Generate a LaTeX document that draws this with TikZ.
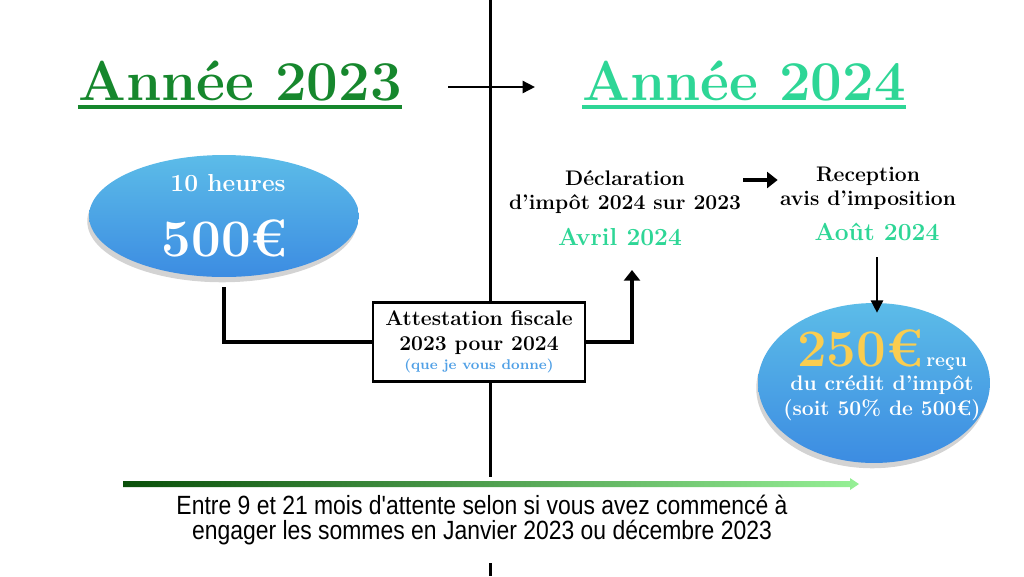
\documentclass[tikz,border=0pt]{standalone}
\usepackage{fontspec}
\newfontfamily\narrowfont[FakeStretch=0.87]{Liberation Sans}
\usetikzlibrary{calc,arrows.meta,shadows,shapes.geometric}

\definecolor{darkgreen}{RGB}{22,135,45}
\definecolor{mint}{RGB}{46,214,150}
\definecolor{bubbletop}{RGB}{92,188,232}
\definecolor{bubblebottom}{RGB}{60,140,226}
\definecolor{gold}{RGB}{250,205,80}
\definecolor{skyblue}{RGB}{80,160,230}
\definecolor{arrowdark}{RGB}{10,80,10}
\definecolor{arrowlight}{RGB}{150,240,150}

\tikzset{
	year/.style={inner sep=0pt, anchor=base, font=\fontsize{32}{36}\selectfont\bfseries},
	yearline/.style={line width=2.8pt},
	label/.style={inner sep=0pt, align=center, font=\fontsize{12}{13.6}\selectfont\bfseries},
	month/.style={inner sep=0pt, text=mint, font=\fontsize{14}{16}\selectfont\bfseries},
	bubble/.style={ellipse, inner sep=0pt, top color=bubbletop, bottom color=bubblebottom,
		drop shadow={shadow xshift=-1pt, shadow yshift=-3pt, opacity=0.35}},
	bubbletext/.style={inner sep=0pt, text=white, font=\bfseries},
	elbow/.style={line width=2.8pt},
	thinarrow/.style={line width=0.9pt, -{Triangle[length=7pt, width=7pt]}},
	fatarrow/.style={line width=2.8pt, -{Triangle[length=6pt, width=9pt]}},
}

\begin{document}
\begin{tikzpicture}[x=0.02cm, y=-0.02cm]
	\useasboundingbox (0,0) rectangle (1024,576);
	
	% time line in the middle
	\draw[line width=1.7pt] (490,0) -- (490,576);
	
	% years
	\node[year, text=darkgreen] (t23) at (240,100) {Année 2023};
	\node[year, text=mint] (t24) at (744,100) {Année 2024};
	\draw[yearline, darkgreen] ($(t23.base west)+(0,7)$) -- ($(t23.base east)+(0,7)$);
	\draw[yearline, mint] ($(t24.base west)+(0,7)$) -- ($(t24.base east)+(0,7)$);
	\draw[thinarrow] ($(t23.base east)+(46,-13)$) -- ($(t24.base west)+(-47,-13)$);
	
	% 2023
	\node[bubble, minimum width=5.4cm, minimum height=2.44cm] (e500) at (224,216) {};
	\node[bubbletext, font=\fontsize{14}{16}\selectfont\bfseries] (h10) at (228,183) {10 heures};
	\node[bubbletext, font=\fontsize{30}{32}\selectfont\bfseries] (p500) at (225,238) {500€};
	
	\node[draw, line width=1.4pt, fill=white, align=center, minimum width=4.24cm, minimum height=1.58cm,
		inner sep=2pt, font=\fontsize{12}{14}\selectfont\bfseries] (box) at (479,342)
		{Attestation fiscale\\2023 pour 2024\\[-3pt]{\color{skyblue}\fontsize{8}{9}\selectfont(que je vous donne)}};
	
	% 2024
	\node[label] (decl) at (625,192) {Déclaration\\d'impôt 2024 sur 2023};
	\node[month] (avril) at (620,237) {Avril 2024};
	\coordinate (avrilIn) at (632,270);
	
	\node[label] (rec) at (868,188) {Reception\\avis d'imposition};
	\node[month] (aout) at (877,232) {Août 2024};
	
	\node[bubble, minimum width=4.64cm, minimum height=3.2cm] (e250) at (874,383) {};
	\node[bubbletext, anchor=base] (p250) at (882,366)
		{{\color{gold}\fontsize{30}{32}\selectfont 250€}\,{\fontsize{11}{12}\selectfont reçu}};
	\node[bubbletext, font=\fontsize{12}{14}\selectfont\bfseries] (credit) at (882,385) {du crédit d'impôt};
	\node[bubbletext, font=\fontsize{12}{14}\selectfont\bfseries] (soit) at (882,410) {(soit 50\% de 500€)};
	
	\draw[elbow] ($(e500.south)+(0,10)$) |- (box.west);
	\draw[elbow, -{Triangle[length=6pt, width=9pt]}] (box.east) -| (avrilIn);
	\draw[fatarrow] ($(decl.east)+(2,-12)$) -- ($(rec.west)+(-2,-8)$);
	\draw[thinarrow] ($(aout.south)+(0,16)$) -- ($(e250.north -| aout.south)+(0,10)$);
	
	% waiting time
	\node[fill=white, inner xsep=4pt, inner ysep=10pt, align=center,
		font=\narrowfont\fontsize{15}{14.4}\selectfont] (wait) at (482,520)
		{Entre 9 et 21 mois d'attente selon si vous avez commencé à\\engager les sommes en Janvier 2023 ou décembre 2023};
	\shade[left color=arrowdark, right color=arrowlight] (123,481) -- (850,481) -- (850,478) -- (859,484)
		-- (850,490) -- (850,487) -- (123,487) -- cycle;
\end{tikzpicture}
\end{document}
